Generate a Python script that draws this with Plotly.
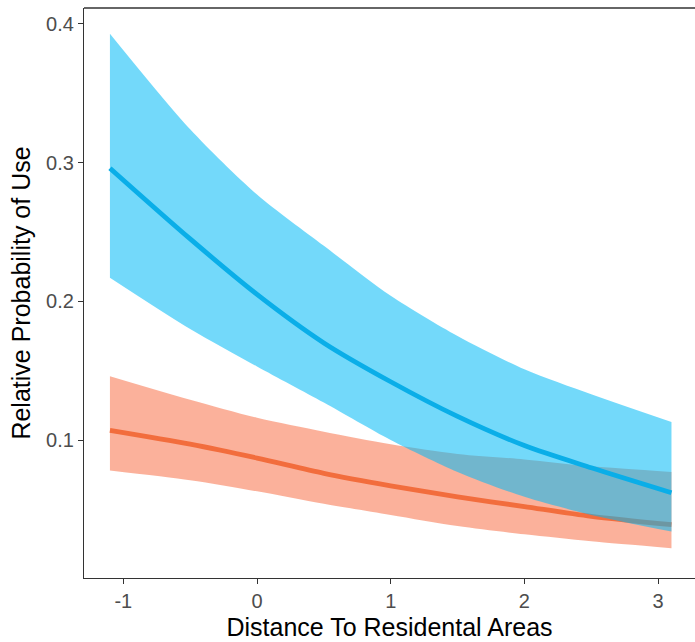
import plotly.graph_objects as go

# Distance to residential areas (scaled)
distance = [-1.1, -0.5, 0.0, 0.5, 1.0, 1.5, 2.0, 2.5, 3.1]

# Blue group
blue_fit = [0.296, 0.245, 0.205, 0.170, 0.142, 0.117, 0.096, 0.080, 0.062]
blue_upper = [0.393, 0.324, 0.277, 0.240, 0.204, 0.175, 0.151, 0.133, 0.113]
blue_lower = [0.217, 0.180, 0.153, 0.127, 0.100, 0.077, 0.059, 0.046, 0.034]

# Orange group
orange_fit = [0.107, 0.097, 0.087, 0.076, 0.067, 0.059, 0.052, 0.045, 0.039]
orange_upper = [0.146, 0.129, 0.116, 0.106, 0.097, 0.090, 0.086, 0.081, 0.077]
orange_lower = [0.078, 0.071, 0.063, 0.054, 0.046, 0.038, 0.032, 0.027, 0.022]

x_ticks = [-1, 0, 1, 2, 3]
y_ticks = [0.1, 0.2, 0.3, 0.4]

ORANGE_FILL = "rgba(248,100,55,0.5)"
ORANGE_LINE = "#F26D3D"
BLUE_FILL = "rgba(0,185,245,0.55)"
BLUE_LINE = "#0AAEE8"

fig = go.Figure()
sp = dict(shape="spline", smoothing=0.8)

def add_group(lower, upper, fit, fill, line):
    fig.add_trace(go.Scatter(x=distance, y=lower, mode="lines",
                             line=dict(width=0, **sp), showlegend=False,
                             hoverinfo="skip"))
    fig.add_trace(go.Scatter(x=distance, y=upper, mode="lines",
                             line=dict(width=0, **sp), fill="tonexty",
                             fillcolor=fill, showlegend=False, hoverinfo="skip"))
    fig.add_trace(go.Scatter(x=distance, y=fit, mode="lines",
                             line=dict(width=4.8, color=line, **sp),
                             showlegend=False))

add_group(orange_lower, orange_upper, orange_fit, ORANGE_FILL, ORANGE_LINE)
add_group(blue_lower, blue_upper, blue_fit, BLUE_FILL, BLUE_LINE)

axis_common = dict(
    showgrid=False, zeroline=False, showline=True, linecolor="#333333",
    linewidth=1.3, ticks="outside", ticklen=5, tickwidth=1.3,
    tickcolor="#333333", tickfont=dict(size=20, color="#4D4D4D",
                                       family="Liberation Sans, Arial"),
)

fig.update_xaxes(range=[-1.294, 3.276], tickvals=x_ticks,
                 ticktext=[str(v) for v in x_ticks],
                 title=dict(text="Distance To Residental Areas",
                            font=dict(size=25, color="#000000",
                                      family="Liberation Sans, Arial"),
                            standoff=7),
                 **axis_common)
fig.update_yaxes(range=[0.0005, 0.4115], tickvals=y_ticks,
                 ticktext=[f"{v:.1f}" for v in y_ticks],
                 title=dict(text="Relative Probability of Use",
                            font=dict(size=25, color="#000000",
                                      family="Liberation Sans, Arial"),
                            standoff=8),
                 **axis_common)

fig.add_shape(type="line", xref="paper", yref="paper", x0=0, x1=1, y0=1, y1=1,
              line=dict(color="#333333", width=1.3))

fig.update_layout(
    width=695, height=642,
    margin=dict(l=84, r=0, t=8, b=64),
    paper_bgcolor="white", plot_bgcolor="white",
    font=dict(family="Liberation Sans, Arial"),
)

fig.write_html("out.html")
